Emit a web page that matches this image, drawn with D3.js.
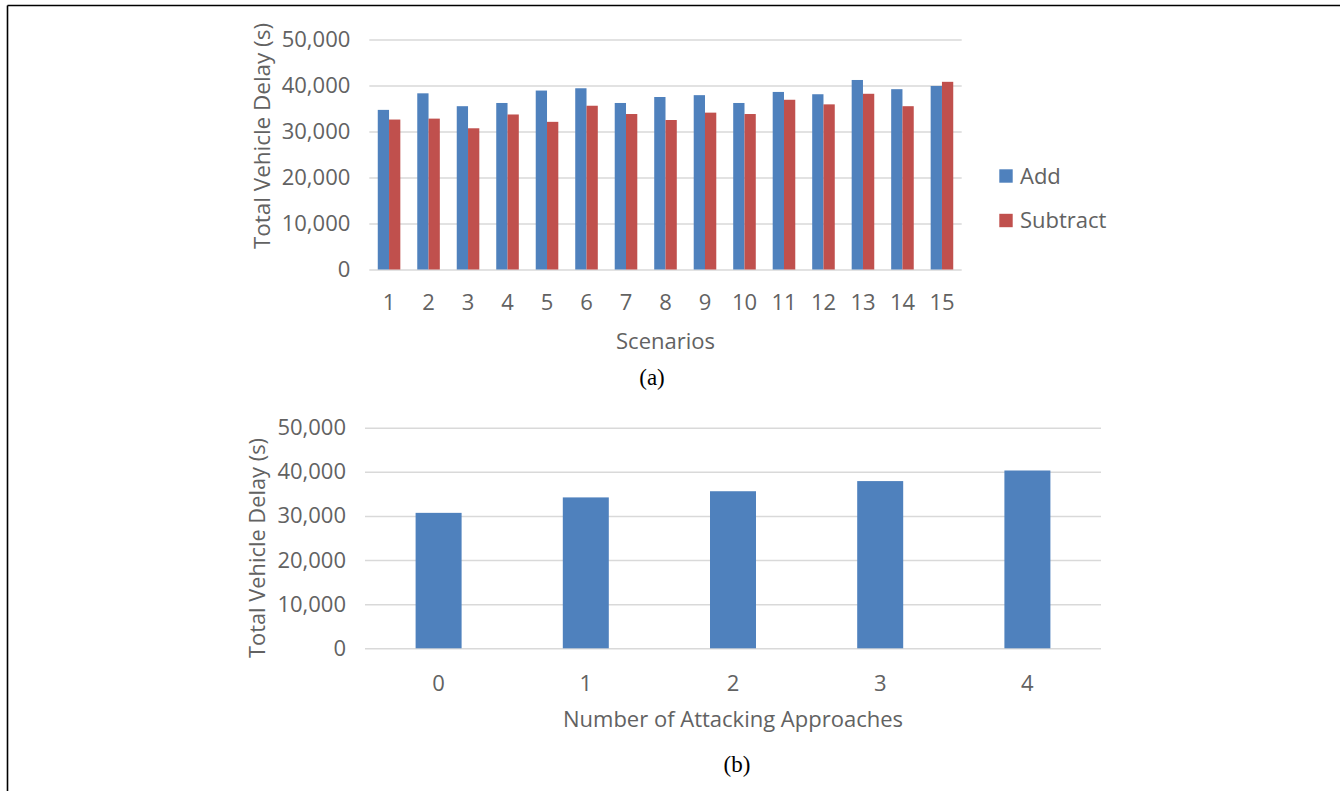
<!DOCTYPE html>
<html>
<head>
<meta charset="utf-8">
<script src="https://cdn.jsdelivr.net/npm/d3@7"></script>
<style>
  html, body { margin: 0; padding: 0; background: #fff; }
  svg { display: block; }
  .tick text { font-family: "Open Sans", sans-serif; }
</style>
</head>
<body>
<svg id="fig" width="1340" height="791"></svg>
<script>
// Panel (a): total vehicle delay per scenario
const scenarios = ["1","2","3","4","5","6","7","8","9","10","11","12","13","14","15"];
const seriesNames = ["Add", "Subtract"];
const addValues = [34700, 38300, 35500, 36200, 38900, 39400, 36200, 37500, 37900, 36200, 38600, 38100, 41200, 39200, 39900];
const subtractValues = [32600, 32800, 30700, 33700, 32100, 35600, 33800, 32500, 34100, 33800, 36900, 35900, 38200, 35500, 40800];

// Panel (b): total vehicle delay vs. number of attacking approaches
const approaches = ["0","1","2","3","4"];
const approachValues = [30700, 34200, 35600, 37900, 40300];

const yTicks = [0, 10000, 20000, 30000, 40000, 50000];
const colors = ["#4F81BD", "#C0504D"];
const textColor = "#626262";
const gridColor = "#D9D9D9";
const font = "'Open Sans', sans-serif";
const fontSize = 22;

const svg = d3.select("#fig");

// Figure frame (top and left rules)
svg.append("line").attr("x1", 7.5).attr("x2", 1340).attr("y1", 5.5).attr("y2", 5.5)
  .attr("stroke", "#000").attr("stroke-width", 1.6);
svg.append("line").attr("x1", 7.5).attr("x2", 7.5).attr("y1", 5.5).attr("y2", 791)
  .attr("stroke", "#000").attr("stroke-width", 1.6);

function drawPanel(opts) {
  const { left, right, top, bottom, cats, series, gapRatio, yTitleX, yTitleY, yTitleLen, xTitle, xTitleY, tickLabelY, caption, captionX, captionY } = opts;
  const g = svg.append("g");
  const x = d3.scaleBand().domain(cats).range([left, right]).padding(0);
  const y = d3.scaleLinear().domain([0, 50000]).range([bottom, top]);
  const plotW = right - left;

  // gridlines + y tick labels
  const yAxis = g.append("g").attr("transform", `translate(${left},0)`)
    .call(d3.axisLeft(y).tickValues(yTicks).tickFormat(d3.format(",")).tickSize(-plotW).tickPadding(19));
  yAxis.select(".domain").remove();
  yAxis.selectAll(".tick line").attr("stroke", gridColor).attr("stroke-width", 1.5);
  yAxis.selectAll(".tick text").attr("font-size", fontSize).attr("fill", textColor);

  // bars
  const nSeries = series.length;
  const barW = x.step() / (nSeries + gapRatio);
  series.forEach((vals, si) => {
    g.append("g").selectAll("rect").data(vals).join("rect")
      .attr("x", (d, i) => x(cats[i]) + x.step() / 2 - nSeries * barW / 2 + si * barW)
      .attr("width", barW)
      .attr("y", d => y(d))
      .attr("height", d => y(0) - y(d))
      .attr("fill", colors[si]);
  });

  // x tick labels
  const xAxis = g.append("g").attr("transform", `translate(0,${bottom})`)
    .call(d3.axisBottom(x).tickSize(0).tickPadding(tickLabelY - bottom));
  xAxis.select(".domain").remove();
  xAxis.selectAll(".tick text").attr("font-size", fontSize).attr("fill", textColor).attr("dy", "0.35em");

  // axis titles
  g.append("text")
    .attr("transform", `translate(${yTitleX},${yTitleY}) rotate(-90)`)
    .attr("text-anchor", "middle").attr("dy", "0.35em")
    .attr("font-family", font).attr("font-size", fontSize).attr("fill", textColor)
    .attr("textLength", yTitleLen).attr("lengthAdjust", "spacingAndGlyphs")
    .text("Total Vehicle Delay (s)");
  g.append("text")
    .attr("x", (left + right) / 2).attr("y", xTitleY)
    .attr("text-anchor", "middle").attr("dy", "0.35em")
    .attr("font-family", font).attr("font-size", fontSize).attr("fill", textColor)
    .text(xTitle);

  // caption
  g.append("text")
    .attr("x", captionX).attr("y", captionY)
    .attr("text-anchor", "middle").attr("dy", "0.35em")
    .attr("font-family", "'Liberation Serif', 'Times New Roman', serif").attr("font-size", 23).attr("fill", "#000")
    .text(caption);
  return g;
}

const gA = drawPanel({
  left: 369.3, right: 961.7, top: 39.5, bottom: 269.5,
  cats: scenarios, series: [addValues, subtractValues], gapRatio: 1.5,
  yTitleX: 262, yTitleY: 136, yTitleLen: 226, xTitle: "Scenarios", xTitleY: 341, tickLabelY: 302,
  caption: "(a)", captionX: 652, captionY: 377
});

// legend for panel (a)
const legendRows = [{ y: 176 }, { y: 220.5 }];
seriesNames.forEach((name, i) => {
  const ly = legendRows[i].y;
  gA.append("rect").attr("x", 999.3).attr("y", ly - 6.7).attr("width", 13.4).attr("height", 13.4).attr("fill", colors[i]);
  gA.append("text").attr("x", 1020).attr("y", ly).attr("dy", "0.35em")
    .attr("font-family", font).attr("font-size", fontSize).attr("fill", textColor).text(name);
});

drawPanel({
  left: 365, right: 1101, top: 427.7, bottom: 648.3,
  cats: approaches, series: [approachValues], gapRatio: 2.2,
  yTitleX: 257, yTitleY: 548, yTitleLen: 220, xTitle: "Number of Attacking Approaches", xTitleY: 719, tickLabelY: 683,
  caption: "(b)", captionX: 737, captionY: 764
});
</script>
</body>
</html>
